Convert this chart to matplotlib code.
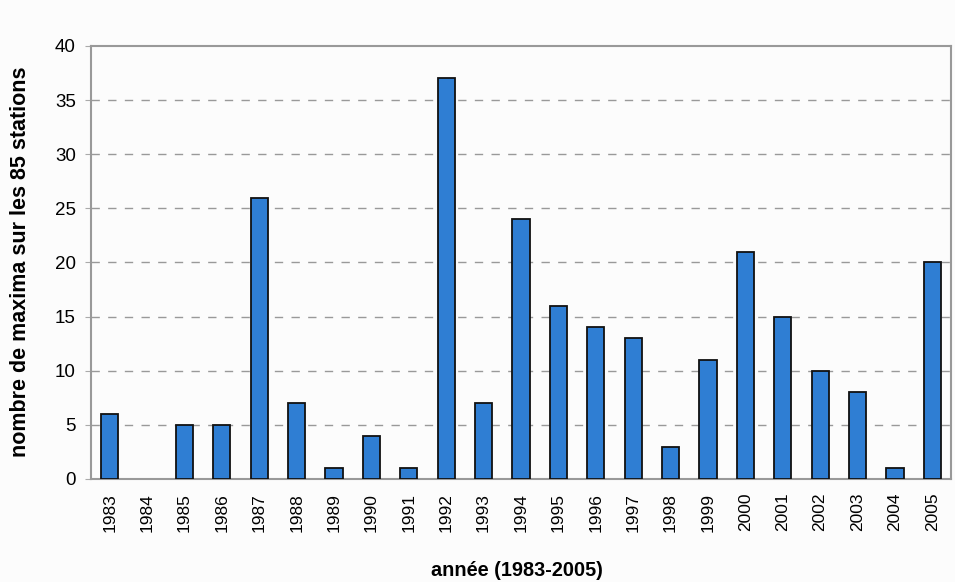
import matplotlib
matplotlib.use("Agg")
import matplotlib.pyplot as plt
import numpy as np

years = [str(y) for y in range(1983, 2006)]
counts = [6, 0, 5, 5, 26, 7, 1, 4, 1, 37, 7, 24, 16, 14, 13, 3, 11, 21, 15, 10, 8, 1, 20]
y_ticks = [0, 5, 10, 15, 20, 25, 30, 35, 40]

plt.rcParams["font.family"] = ["Liberation Sans", "DejaVu Sans"]

fig = plt.figure(figsize=(9.55, 5.82), dpi=100)
fig.patch.set_facecolor("#fcfcfc")
ax = fig.add_axes([0.0953, 0.177, 0.9005, 0.744])
ax.set_facecolor("#fcfcfc")

x = np.arange(len(years))
edges = ["#111111" if c > 0 else "none" for c in counts]
ax.bar(x, counts, width=0.46, color="#2f7ed3", edgecolor=edges, linewidth=1.3, zorder=3)

ax.set_xlim(-0.5, len(years) - 0.5)
ax.set_ylim(0, 40)
ax.set_yticks(y_ticks)
ax.set_xticks(x)
ax.set_xticklabels(years, rotation=90, fontsize=12.5)
ax.tick_params(axis="y", labelsize=13.5, length=4, color="#aaaaaa", pad=7)
ax.tick_params(axis="x", length=0, pad=10)

# dashed horizontal grid
for v in y_ticks[1:-1]:
    ax.axhline(v, color="#999999", linestyle=(0, (6, 6)), linewidth=1.0, zorder=1)

for s in ax.spines.values():
    s.set_color("#999999")
    s.set_linewidth(1.5)

fig.text(21 / 955, 1 - 262 / 582, "nombre de maxima sur les 85 stations",
         rotation=90, ha="center", va="center", fontsize=15.5, fontweight="bold")
fig.text(517 / 955, 1 - 571 / 582, "année (1983-2005)",
         ha="center", va="center", fontsize=14.3, fontweight="bold")

fig.savefig("out.png", dpi=100, facecolor=fig.get_facecolor())
